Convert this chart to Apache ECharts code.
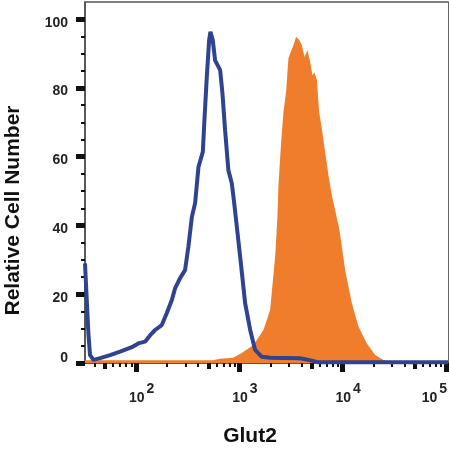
<!DOCTYPE html>
<html>
<head>
<meta charset="utf-8">
<style>html,body{margin:0;padding:0;background:#fff}#chart{width:449px;height:450px}</style>
<script src="https://cdn.jsdelivr.net/npm/echarts@6/dist/echarts.min.js"></script>
</head>
<body>
<div id="chart"></div>
<script>
// isotype control trace
const blueX = [32, 32.4, 34.5, 35.8, 38.6, 44.8, 56, 70, 91, 105, 122, 137, 153, 177, 198, 222, 239, 267, 298, 321, 347, 373, 402, 443, 459, 484, 510, 525, 553, 583, 652, 686, 728, 783, 845, 885, 946, 1035, 1138, 1274, 1422, 1652, 1987, 3882, 5047, 5807, 105000]
const blueY = [29, 25.6, 8.7, 2.3, 0.9, 1.4, 2.3, 3.3, 4.6, 5.7, 6.2, 8.1, 9.6, 11, 14.5, 18.3, 21.8, 24.7, 27, 33.8, 42.5, 46.5, 57, 61.4, 70.6, 83.2, 93.9, 96.3, 93.9, 88, 85.2, 78.5, 67.7, 56.1, 52.3, 47.4, 39.6, 29, 17.4, 9.6, 3.8, 1.8, 1.5, 1.4, 0.7, 0.2, 0.2]
// Glut2 stained trace
const orangeX = [32, 557, 652, 871, 1057, 1370, 1713, 1987, 2223, 2339, 2393, 2541, 2675, 2838, 2992, 3155, 3342, 3548, 3819, 4036, 4276, 4571, 4853, 5105, 5346, 5636, 5929, 6295, 6776, 7295, 7870, 9333, 10593, 12303, 14256, 17179, 20704, 24889, 28907, 105000]
const orangeY = [0.8, 0.8, 1.2, 1.5, 2.9, 5.2, 9.6, 15.4, 30.9, 42.5, 51.7, 64.3, 73, 78.9, 88.7, 90.5, 92.4, 94.9, 93.9, 92.4, 89, 91, 87.6, 83.7, 84.5, 82.3, 73, 68.2, 61.4, 54.7, 48.8, 38.7, 27, 17.4, 10.6, 5.7, 2.3, 0.9, 0.4, 0.2]

const xMajor = [100, 1000, 10000, 100000]
const xMid = [50, 500, 5000, 50000]
const xMinor = [40, 60, 70, 80, 90, 200, 300, 400, 600, 700, 800, 900, 2000, 3000, 4000, 6000, 7000, 8000, 9000, 20000, 30000, 40000, 60000, 70000, 80000, 90000]
const yMajor = [0, 20, 40, 60, 80, 100]
const yMinor = [5, 10, 15, 25, 30, 35, 45, 50, 55, 65, 70, 75, 85, 90, 95]

const pairs = (xs, ys) => xs.map((x, i) => [x, ys[i]])
const font = '"Liberation Sans", Arial, sans-serif'
const xRange = { type: 'log', logBase: 10, min: 32, max: 105000 }
const yRange = { type: 'value', min: 0, max: 105 }

// one extra axis per tick size, echarts only has one tick style per axis
function xTicks (values, length, width) {
  return Object.assign({}, xRange, {
    position: 'bottom',
    axisLine: { show: false },
    splitLine: { show: false },
    axisLabel: { show: false },
    axisTick: { show: true, customValues: values, length: length, lineStyle: { color: '#111', width: width } }
  })
}

const chart = echarts.init(document.getElementById('chart'), null, { renderer: 'canvas' })
chart.setOption({
  animation: false,
  backgroundColor: '#fff',
  grid: { left: 85, top: 2, width: 363, height: 361, outerBoundsMode: 'none' },
  xAxis: [
    Object.assign({}, xRange, {
      position: 'bottom',
      name: 'Glut2',
      nameLocation: 'middle',
      nameGap: 63,
      nameTextStyle: { fontFamily: font, fontWeight: 'bold', fontSize: 21, color: '#111', padding: [0, 33, 0, 0] },
      axisLine: { show: true, lineStyle: { color: '#222', width: 1.5 } },
      splitLine: { show: false },
      axisTick: { show: true, customValues: xMajor, length: 9, lineStyle: { color: '#111', width: 5 } },
      axisLabel: {
        show: true,
        customValues: xMajor,
        margin: 19,
        hideOverlap: false,
        formatter: v => {
          const exp = Math.round(Math.log10(v))
          return exp === 5 ? `{n|10}{s|${exp}}{r|}` : `{l|}{n|10}{s|${exp}}`
        },
        rich: {
          n: { fontFamily: font, fontWeight: 'bold', fontSize: 14, color: '#222', padding: [4, 0, 0, 0] },
          s: { fontFamily: font, fontWeight: 'bold', fontSize: 14, color: '#222', padding: [0, 0, 15, 2] },
          l: { width: 11 },
          r: { width: 23 }
        }
      }
    }),
    xTicks(xMid, 6, 4),
    xTicks(xMinor, 4, 2),
    Object.assign({}, xRange, {
      position: 'top',
      axisLine: { show: true, lineStyle: { color: '#555', width: 1.5 } },
      axisTick: { show: false },
      axisLabel: { show: false },
      splitLine: { show: false }
    })
  ],
  yAxis: [
    Object.assign({}, yRange, {
      position: 'left',
      name: 'Relative Cell Number',
      nameLocation: 'middle',
      nameGap: 61,
      nameRotate: 90,
      nameTextStyle: { fontFamily: font, fontWeight: 'bold', fontSize: 21, color: '#111', padding: [0, 56, 0, 0] },
      axisLine: { show: true, lineStyle: { color: '#222', width: 1.5 } },
      splitLine: { show: false },
      axisTick: { show: true, customValues: yMajor, length: 9, lineStyle: { color: '#111', width: 5 } },
      axisLabel: {
        show: true,
        customValues: yMajor,
        margin: 17,
        formatter: v => (v === 0 ? `{z|${v}}` : `{d|${v}}`),
        rich: {
          d: { fontFamily: font, fontWeight: 'bold', fontSize: 14, color: '#222', padding: [7, 0, 0, 0] },
          z: { fontFamily: font, fontWeight: 'bold', fontSize: 14, color: '#222', padding: [0, 0, 10, 0] }
        }
      }
    }),
    Object.assign({}, yRange, {
      position: 'left',
      axisLine: { show: false },
      splitLine: { show: false },
      axisLabel: { show: false },
      axisTick: { show: true, customValues: yMinor, length: 4, lineStyle: { color: '#111', width: 2 } }
    }),
    Object.assign({}, yRange, {
      position: 'right',
      axisLine: { show: true, lineStyle: { color: '#666', width: 1 } },
      axisTick: { show: false },
      axisLabel: { show: false },
      splitLine: { show: false }
    })
  ],
  series: [
    {
      type: 'line',
      data: pairs(orangeX, orangeY),
      showSymbol: false,
      lineStyle: { width: 0 },
      itemStyle: { color: '#f07d2b' },
      areaStyle: { color: '#f07d2b', opacity: 1 },
      z: 2
    },
    {
      type: 'line',
      data: pairs(blueX, blueY),
      showSymbol: false,
      clip: false,
      lineStyle: { color: '#2f4390', width: 4 },
      itemStyle: { color: '#2f4390' },
      z: 3
    }
  ]
})
</script>
</body>
</html>
